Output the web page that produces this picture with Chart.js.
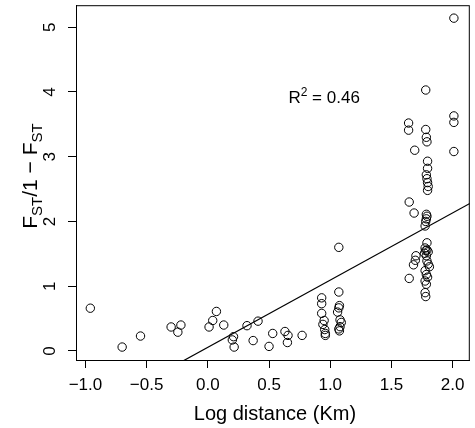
<!DOCTYPE html>
<html lang="en">

<head>
  <meta charset="UTF-8">
  <title>FST vs log distance</title>
  <style>
    body {
      margin: 0;
      background: #fff;
    }

    #wrap {
      width: 475px;
      height: 428px;
    }
  </style>
</head>

<body>
  <div id="wrap"><canvas id="fstChart" width="475" height="428"></canvas></div>

  <script src="https://cdn.jsdelivr.net/npm/chart.js@4.4.0/dist/chart.umd.min.js"></script>
  <script>
    // points
    const logDistance = [
      -0.96, -0.70, -0.55, -0.30, -0.22, -0.245, 0.01, 0.04, 0.07, 0.13, 0.20, 0.21, 0.215, 0.32, 0.37, 0.41,
      0.53, 0.50, 0.63, 0.655, 0.65, 0.77,
      0.93, 0.93, 0.93, 0.95, 0.94, 0.955, 0.96, 0.96,
      1.07, 1.07, 1.075, 1.07, 1.06, 1.08, 1.09, 1.08, 1.07, 1.075,
      1.78, 1.64, 1.64, 1.78, 1.785, 1.79, 1.69, 1.795, 1.795, 1.785, 1.79, 1.795, 1.80, 1.795,
      1.645, 1.685, 1.785, 1.79, 1.785, 1.78, 1.775, 1.79, 1.775, 1.78, 1.77, 1.785, 1.79, 1.80,
      1.70, 1.695, 1.68, 1.79, 1.80, 1.81, 1.775, 1.785, 1.795, 1.775, 1.785, 1.645, 1.775, 1.78,
      2.01, 2.01, 2.01, 2.01
    ];
    const fstRatio = [
      0.66, 0.06, 0.23, 0.37, 0.40, 0.29, 0.37, 0.47, 0.61, 0.40, 0.17, 0.22, 0.06, 0.39, 0.16, 0.46,
      0.27, 0.07, 0.30, 0.24, 0.13, 0.24,
      0.82, 0.73, 0.58, 0.47, 0.41, 0.33, 0.27, 0.24,
      1.60, 0.91, 0.70, 0.665, 0.60, 0.48, 0.44, 0.375, 0.34, 0.31,
      4.03, 3.52, 3.41, 3.42, 3.30, 3.23, 3.10, 2.93, 2.82, 2.72, 2.66, 2.60, 2.54, 2.48,
      2.30, 2.13, 2.11, 2.08, 2.04, 2.00, 1.93, 1.67, 1.59, 1.55, 1.51, 1.47, 1.56, 1.53,
      1.47, 1.40, 1.33, 1.39, 1.34, 1.30, 1.24, 1.18, 1.14, 1.08, 1.03, 1.12, 0.90, 0.84,
      5.14, 3.63, 3.53, 3.08
    ];

    const xTicks = [-1.0, -0.5, 0.0, 0.5, 1.0, 1.5, 2.0];
    const yTicks = [0, 1, 2, 3, 4, 5];
    const xRange = [-1.077, 2.14];
    const yRange = [-0.14, 5.34];

    // regression line y = a + b x
    const fitIntercept = 0.056;
    const fitSlope = 1.038;
    const r2Value = '0.46';
    const r2Pos = [0.95, 3.92];

    const FONT = '"Liberation Sans", Arial, Helvetica, sans-serif';
    const fit = x => fitIntercept + fitSlope * x;

    function drawPieces(ctx, pieces) {
      // pieces: [text, size, shift]; centred on the current origin
      let total = 0;
      pieces.forEach(p => {
        ctx.font = p[1] + 'px ' + FONT;
        total += ctx.measureText(p[0]).width;
      });
      let pos = -total / 2;
      pieces.forEach(p => {
        ctx.font = p[1] + 'px ' + FONT;
        ctx.fillText(p[0], pos, p[2]);
        pos += ctx.measureText(p[0]).width;
      });
    }

    const framePlugin = {
      id: 'frame',
      afterDraw(chart) {
        const { ctx, chartArea: a, scales: { y } } = chart;
        ctx.save();
        ctx.strokeStyle = '#000';
        ctx.lineWidth = 1;
        ctx.strokeRect(a.left + 0.5, a.top + 0.5, a.right - a.left - 1, a.bottom - a.top);
        ctx.fillStyle = '#000';

        // y tick labels, rotated like R's default
        ctx.font = '17px ' + FONT;
        ctx.textAlign = 'center';
        ctx.textBaseline = 'middle';
        yTicks.forEach(v => {
          ctx.save();
          ctx.translate(50, y.getPixelForValue(v));
          ctx.rotate(-Math.PI / 2);
          ctx.fillText(String(v), 0, 0);
          ctx.restore();
        });

        ctx.textAlign = 'left';
        ctx.textBaseline = 'alphabetic';

        // y title with subscripts
        ctx.save();
        ctx.translate(37, 176);
        ctx.rotate(-Math.PI / 2);
        drawPieces(ctx, [['F', 21, 0], ['ST', 15, 5], ['/1 \u2212 F', 21, 0], ['ST', 15, 5]]);
        ctx.restore();

        // x title
        ctx.save();
        ctx.translate((a.left + a.right) / 2 + 2, 420);
        drawPieces(ctx, [['Log distance (Km)', 20, 0]]);
        ctx.restore();

        // R squared
        const xs = chart.scales.x;
        ctx.save();
        ctx.translate(xs.getPixelForValue(r2Pos[0]), y.getPixelForValue(r2Pos[1]) + 6);
        drawPieces(ctx, [['R', 17, 0], ['2', 12, -7], [' = ' + r2Value, 17, 0]]);
        ctx.restore();

        ctx.restore();
      }
    };

    const points = logDistance.map((x, i) => ({ x: x, y: fstRatio[i] }));

    new Chart(document.getElementById('fstChart'), {
      type: 'scatter',
      data: {
        datasets: [
          {
            data: points,
            pointStyle: 'circle',
            pointRadius: 4.2,
            borderColor: '#000',
            borderWidth: 1,
            backgroundColor: 'rgba(0,0,0,0)'
          },
          {
            data: [{ x: xRange[0], y: fit(xRange[0]) }, { x: xRange[1], y: fit(xRange[1]) }],
            showLine: true,
            pointRadius: 0,
            borderColor: '#000',
            borderWidth: 1.2,
            backgroundColor: '#000'
          }
        ]
      },
      options: {
        responsive: false,
        animation: false,
        layout: { padding: { top: 2, right: 3, left: 0, bottom: 0 } },
        plugins: {
          legend: { display: false },
          tooltip: { enabled: false }
        },
        scales: {
          x: {
            type: 'linear',
            min: xRange[0],
            max: xRange[1],
            afterBuildTicks: s => { s.ticks = xTicks.map(v => ({ value: v })); },
            afterFit: s => { s.height = 68; },
            border: { display: true, color: '#000', width: 1 },
            grid: { drawOnChartArea: false, drawTicks: true, tickLength: 8, color: '#000' },
            ticks: {
              autoSkip: false,
              maxRotation: 0,
              padding: 7,
              color: '#000',
              font: { family: FONT, size: 17 },
              callback: v => (v < 0 ? '\u2212' : '') + Math.abs(v).toFixed(1)
            }
          },
          y: {
            type: 'linear',
            min: yRange[0],
            max: yRange[1],
            afterBuildTicks: s => { s.ticks = yTicks.map(v => ({ value: v })); },
            afterFit: s => { s.width = 76; },
            border: { display: true, color: '#000', width: 1 },
            grid: { drawOnChartArea: false, drawTicks: true, tickLength: 8, color: '#000' },
            ticks: { display: false }
          }
        }
      },
      plugins: [framePlugin]
    });
  </script>
</body>

</html>
